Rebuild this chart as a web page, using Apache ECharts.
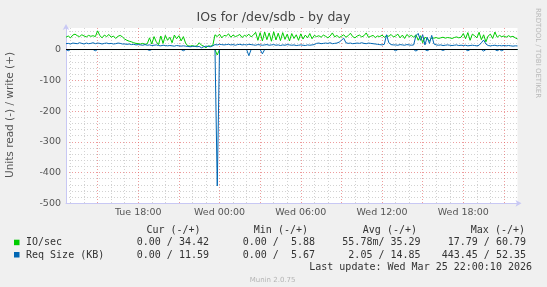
<!DOCTYPE html>
<html><head><meta charset="utf-8">
<script src="https://cdn.jsdelivr.net/npm/echarts@6/dist/echarts.min.js"></script>
<style>html,body{margin:0;padding:0;background:#f0f0f0}#c{width:547px;height:287px}</style>
</head><body><div id="c"></div>
<script>
// time in minutes since Tue 00:00
const START_MIN = 760;   // Tue 12:40
const END_MIN = 2760;    // Wed 22:00
const STEP_MIN = 10;

const ioWrite = [
  40,44,38,47,50,45,42,48,44,41,46,43,45,42,
  60.79,
  45,38,47,42,49,40,44,36,43,46,41,
  34,30,27,25,22,20,19,18,20,17,19,
  38,18,42,25,16,44,20,46,30,40,22,47,35,45,28,42,20,
  12,11,13,10,12,22,14,11,5.88,12,11,13,
  48,42,50,38,46,44,51,40,47,42,45,49,39,46,43,50,41,47,
  56,30,55,28,57,32,54,27,58,31,53,29,55,33,50,28,52,36,48,30,51,34,47,38,52,35,46,
  42,45,40,47,43,38,44,54,41,46,39,43,48,40,45,53,42,38,44,47,41,45,54,40,43,46,39,44,42,47,40,45,43,49,41,
  44,50,38,47,36,49,42,46,40,48,
  30,45,22,40,35,28,
  38,37,39,36,38,40,37,39,38,36,39,41,38,40,
  52,35,55,30,50,45,38,56,32,48,25,44,50,36,57,40,46,42,
  44,40,45,41,43,38,34.42
];
const reqWrite = [
  19,20,18,21,20,19,22,20,18,21,19,20,22,19,21,20,18,20,21,19,20,18,19,21,20,18,
  18,17,18,16,17,15,16,15,14,16,14,15,13,14,15,13,12,14,13,12,13,12,11,13,12,11,12,11,
  10,9,10,11,9,10,5.67,9,11,10,9,12,
  16,15,17,16,15,16,17,15,16,14,16,17,15,16,15,17,16,15,14,16,15,14,15,16,14,15,16,14,15,13,15,14,16,15,14,15,13,14,15,14,13,15,14,15,16,
  20,21,19,20,21,20,22,19,20,21,24,30,37,22,20,21,19,20,21,20,22,20,19,21,20,19,18,17,16,15,17,48,22,16,15,
  15,14,16,15,14,16,15,14,15,45,
  52.35,30,48,15,40,20,46,18,
  15,14,15,13,14,15,14,13,14,15,13,14,13,14,12,13,14,13,12,14,22,31,18,13,12,13,14,12,13,12,13,12,13,12,11,12,11.59
];
// read values (drawn downward), [minute, value]
const ioReadDips = [[1430, 17.79]];
const reqReadDips = [[770,4],[890,4],[1130,3],[1280,4],[1430,443.45],[1570,20],[1630,14],
  [2220,4],[2310,5],[2360,4],[2430,3],[2540,4],[2610,5],[2670,4],[2690,4]];

const xLabelTimes = [1080,1440,1800,2160,2520];
const xLabelTexts = ['Tue 18:00','Wed 00:00','Wed 06:00','Wed 12:00','Wed 18:00'];
const yLabelValues = [-500,-400,-300,-200,-100,0];

const legendNames = ['IO/sec','Req Size (KB)'];
const legendColors = ['#00cc00','#0066b3'];
const curText = ['0.00 / 34.42','0.00 / 11.59'];
const minText = ['0.00 /  5.88','0.00 /  5.67'];
const avgText = ['55.78m/ 35.29','2.05 / 14.85'];
const maxText = ['17.79 / 60.79','443.45 / 52.35'];

// grid line positions
const redX = [], greyX = [], redY = [], greyY = [];
for (let t = 780; t < END_MIN; t += 60) { if (t % 180 === 0) redX.push(t); else greyX.push(t); }
for (let v = -400; v < 0; v += 100) redY.push(v);
for (let v = -480; v <= 60; v += 20) { if (v % 100 !== 0) greyY.push(v); }

const times = ioWrite.map((_, i) => START_MIN + i * STEP_MIN);
function readSeries(dips) {
  const m = new Map(dips);
  return times.map(t => [t, m.has(t) ? -m.get(t) : 0]);
}

const chart = echarts.init(document.getElementById('c'), null, {renderer: 'canvas'});
const mono = 'DejaVu Sans Mono';
const txt = '#333';
const graphics = [];
graphics.push({type:'text', left:'center', top:11, style:{text:'IOs for /dev/sdb - by day', font:'12.5px "DejaVu Sans"', fill:'#444'}});
graphics.push({type:'text', x:10.5, y:115, rotation:Math.PI/2, style:{text:'Units read (-) / write (+)', font:'10.5px "DejaVu Sans"', fill:'#555', align:'center', verticalAlign:'middle'}});
graphics.push({type:'text', x:538, y:53, rotation:-Math.PI/2, style:{text:'RRDTOOL / TOBI OETIKER', font:'7px "DejaVu Sans"', fill:'#b8b8b8', align:'center', verticalAlign:'middle'}});
const hdrY = 230, rowY = [242.7, 255];
[['Cur (-/+)',200.6],['Min (-/+)',308],['Avg (-/+)',417],['Max (-/+)',525]].forEach(h => {
  graphics.push({type:'text', x:h[1], y:hdrY, style:{text:h[0], font:'10px "'+mono+'"', fill:txt, align:'right', verticalAlign:'middle'}});
});
for (let r = 0; r < 2; r++) {
  graphics.push({type:'rect', shape:{x:14, y:rowY[r]-3, width:5.5, height:5.5}, style:{fill:legendColors[r]}});
  graphics.push({type:'text', x:26, y:rowY[r], style:{text:legendNames[r], font:'10px "'+mono+'"', fill:txt, align:'left', verticalAlign:'middle'}});
  [[curText[r],209],[minText[r],315],[avgText[r],420.6],[maxText[r],526]].forEach(c => {
    graphics.push({type:'text', x:c[1], y:rowY[r], style:{text:c[0], font:'10px "'+mono+'"', fill:txt, align:'right', verticalAlign:'middle'}});
  });
}
graphics.push({type:'text', x:532, y:267.2, style:{text:'Last update: Wed Mar 25 22:00:10 2026', font:'10px "'+mono+'"', fill:txt, align:'right', verticalAlign:'middle'}});
graphics.push({type:'text', x:272.6, y:280.3, style:{text:'Munin 2.0.75', font:'7px "DejaVu Sans"', fill:'#b4b4b4', align:'center', verticalAlign:'middle'}});

const axisCol = '#c8c8f4';
const option = {
  animation: false,
  backgroundColor: '#f0f0f0',
  grid: {left:66, top:28, width:451.5, height:175.3, show:true, backgroundColor:'#ffffff', borderWidth:0},
  xAxis: [
    {type:'value', min:START_MIN, max:END_MIN, position:'bottom',
     axisLine:{show:true, onZero:false, lineStyle:{color:axisCol}, symbol:['none','arrow'], symbolSize:[5,6], symbolOffset:[0,4]},
     axisTick:{show:false, customValues:greyX},
     axisLabel:{customValues:xLabelTimes, formatter:v => xLabelTexts[xLabelTimes.indexOf(v)] || '', color:'#555', fontSize:9.5, fontFamily:'DejaVu Sans', margin:4},
     splitLine:{show:true, lineStyle:{color:'#d2d2d2', type:[1,2], width:1}}},
    {type:'value', min:START_MIN, max:END_MIN, position:'bottom',
     axisLine:{show:false}, axisTick:{show:false, customValues:redX}, axisLabel:{show:false},
     splitLine:{show:true, lineStyle:{color:'rgba(225,90,90,0.6)', type:[1,2], width:1}}}
  ],
  yAxis: [
    {type:'value', min:-500, max:70,
     axisLine:{show:true, onZero:false, lineStyle:{color:axisCol}, symbol:['none','arrow'], symbolSize:[5,6], symbolOffset:[0,4]},
     axisTick:{show:false, customValues:redY},
     axisLabel:{customValues:yLabelValues, color:'#555', fontSize:9.5, fontFamily:'DejaVu Sans', margin:5},
     splitLine:{show:true, lineStyle:{color:'rgba(225,90,90,0.6)', type:[1,2], width:1}}},
    {type:'value', min:-500, max:70,
     axisLine:{show:false}, axisTick:{show:false, customValues:greyY}, axisLabel:{show:false},
     splitLine:{show:true, lineStyle:{color:'#d2d2d2', type:[1,2], width:1}}}
  ],
  series: [
    {type:'line', name:'IO read', xAxisIndex:0, yAxisIndex:0, data:readSeries(ioReadDips), showSymbol:false, lineStyle:{color:'#00cc00', width:1}, z:3},
    {type:'line', name:'IO write', xAxisIndex:0, yAxisIndex:0, data:ioWrite.map((v,i)=>[times[i],v]), showSymbol:false, lineStyle:{color:'#00cc00', width:1}, z:3},
    {type:'line', name:'Req read', xAxisIndex:0, yAxisIndex:0, data:readSeries(reqReadDips), showSymbol:false, lineStyle:{color:'#0066b3', width:1}, z:4},
    {type:'line', name:'Req write', xAxisIndex:0, yAxisIndex:0, data:reqWrite.map((v,i)=>[times[i],v]), showSymbol:false, lineStyle:{color:'#0066b3', width:1}, z:4,
     markLine:{silent:true, symbol:'none', label:{show:false}, lineStyle:{color:'#000', type:'solid', width:1}, data:[{yAxis:0}]}}
  ],
  graphic: graphics
};
chart.setOption(option);
</script></body></html>
